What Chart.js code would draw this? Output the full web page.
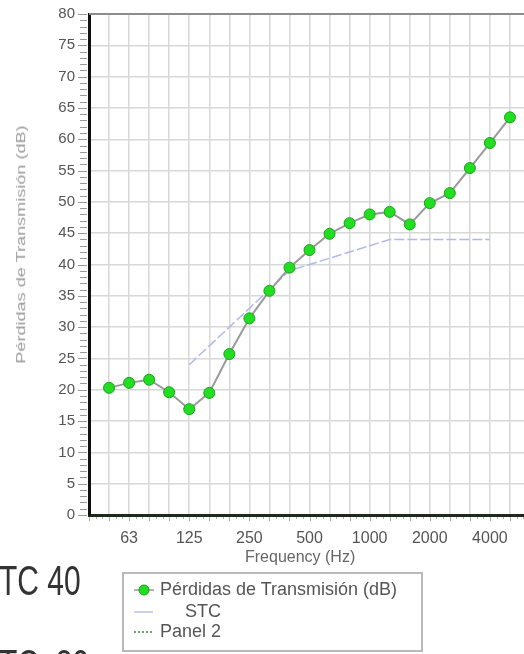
<!DOCTYPE html>
<html>
<head>
<meta charset="utf-8">
<script src="https://cdn.jsdelivr.net/npm/chart.js@4.4.1/dist/chart.umd.min.js"></script>
<style>
  html, body { margin:0; padding:0; background:#fff; overflow:hidden; width:524px; height:654px; }
  #wrap { position:relative; width:524px; height:654px; overflow:hidden; }
  #cv { position:absolute; left:0; top:-9px; }
  .txt { position:absolute; font-family:"Liberation Sans", Arial, sans-serif; white-space:pre; }
  #legend { position:absolute; left:122px; top:572px; width:297px; height:76px; border:2px solid #b9b9b9; background:#fff; }
  .lrow { position:absolute; left:0; height:20px; }
  .lrow svg { position:absolute; left:9px; top:0; }
  .lrow span { position:absolute; top:-1px; font-family:"Liberation Sans", Arial, sans-serif; font-size:18px; color:#555; white-space:pre; }
</style>
</head>
<body>
<div id="wrap">
  <canvas id="cv"></canvas>
  <div class="txt" id="ytitle" style="font-size:13px;color:#9a9a9a;">Pérdidas de Transmisión (dB)</div>
  <div class="txt" id="xtitle" style="font-size:16px;color:#666;">Frequency (Hz)</div>
  <div class="txt" id="big1" style="font-size:30px;color:#333;left:-21px;top:557px;transform:scaleY(1.4);transform-origin:0 0;">STC 40</div>
  <div class="txt" id="big2" style="font-size:30px;color:#333;left:-21px;top:641px;transform:scaleY(1.4);transform-origin:0 0;">STC  30</div>
  <div id="legend">
    <div class="lrow" style="top:6px;">
      <svg width="22" height="20"><line x1="1" y1="10" x2="21" y2="10" stroke="#999" stroke-width="1.5"/><circle cx="11" cy="10" r="5" fill="#22dd22" stroke="#17a017" stroke-width="1"/></svg>
      <span id="l1" style="left:36px;">Pérdidas de Transmisión (dB)</span>
    </div>
    <div class="lrow" style="top:28px;">
      <svg width="22" height="20"><line x1="1" y1="10" x2="20" y2="10" stroke="#b8c0ea" stroke-width="1.5"/></svg>
      <span style="left:61px;">STC</span>
    </div>
    <div class="lrow" style="top:48px;">
      <svg width="22" height="20"><line x1="1" y1="10" x2="20" y2="10" stroke="#3a8a3a" stroke-width="1.5" stroke-dasharray="2,2"/></svg>
      <span style="left:36px;">Panel 2</span>
    </div>
  </div>
</div>
<script>
// ---- data ----
const freqLabels = ['40','50','63','80','100','125','160','200','250','315','400','500','630','800','1000','1250','1600','2000','2500','3150','4000','5000','6300'];
const tlValues   = [null,20.3,21.1,21.6,19.6,16.9,19.5,25.7,31.4,35.8,39.5,42.3,44.9,46.6,48.0,48.4,46.4,49.8,51.4,55.4,59.4,63.5,null];
const stcValues  = [null,null,null,null,null,24,27,30,33,36,39,40,41,42,43,44,44,44,44,44,44,null,null];
const shownTicks = ['63','125','250','500','1000','2000','4000'];
const yMin = 0, yMax = 80, yStep = 5;

const CW = 544, CH = 569;
const cv = document.getElementById('cv');
cv.style.width = CW + 'px'; cv.style.height = CH + 'px';
cv.width = CW; cv.height = CH;

const extras = {
  id: 'extras',
  afterDraw(chart) {
    const ctx = chart.ctx, a = chart.chartArea;
    const ys = chart.scales.y, xs = chart.scales.x;
    ctx.save();
    // top border
    ctx.strokeStyle = '#8c8c8c'; ctx.lineWidth = 2;
    ctx.beginPath(); ctx.moveTo(a.left, a.top); ctx.lineTo(a.right, a.top); ctx.stroke();
    // y minor ticks
    ctx.strokeStyle = '#9a9a9a'; ctx.lineWidth = 1;
    for (let v = yMin; v <= yMax; v += 1) {
      const y = Math.round(ys.getPixelForValue(v)) + 0.5;
      const len = (v % yStep === 0) ? 9 : 7;
      ctx.beginPath(); ctx.moveTo(a.left - 2 - len, y); ctx.lineTo(a.left - 2, y); ctx.stroke();
    }
    // x minor ticks
    ctx.strokeStyle = '#b7a9a9';
    for (let i = 0; i < freqLabels.length - 1; i++) {
      for (let k = 0; k < 3; k++) {
        const x = Math.round(xs.getPixelForValue(i + k / 3)) + 0.5;
        ctx.beginPath(); ctx.moveTo(x, a.bottom + 2); ctx.lineTo(x, a.bottom + (k === 0 ? 6 : 4)); ctx.stroke();
      }
    }
    ctx.restore();
  }
};

const chart = new Chart(cv, {
  type: 'line',
  data: {
    labels: freqLabels,
    datasets: [
      {
        label: 'Pérdidas de Transmisión (dB)',
        data: tlValues,
        borderColor: '#9a9a9a', borderWidth: 2,
        pointRadius: 5.5, pointBackgroundColor: '#22dd22', pointBorderColor: '#16a516', pointBorderWidth: 1,
        tension: 0, spanGaps: false
      },
      {
        label: 'STC',
        data: stcValues,
        borderColor: '#b3b9e6', borderWidth: 1.5, borderDash: [10, 3],
        pointRadius: 0, tension: 0
      },
      {
        label: 'Panel 2',
        data: freqLabels.map(() => null),
        borderColor: '#3a8a3a', borderDash: [2, 2], pointRadius: 0
      }
    ]
  },
  options: {
    responsive: false, animation: false, devicePixelRatio: 1,
    layout: { padding: { top: 5, right: 0, left: 0, bottom: 0 } },
    plugins: { legend: { display: false }, tooltip: { enabled: false } },
    scales: {
      x: {
        type: 'category', offset: false,
        grid: { color: '#d8d8d8', lineWidth: 1.5, drawTicks: false },
        border: { color: '#1c2a1c', width: 3 },
        ticks: {
          autoSkip: false, maxRotation: 0, padding: 14,
          color: '#555', font: { family: 'Liberation Sans, Arial', size: 16 },
          callback: function(v, i) { const l = freqLabels[i]; return shownTicks.includes(l) ? l : ''; }
        },
        afterFit(s) { s.height = CH - 524; }
      },
      y: {
        min: yMin, max: yMax,
        grid: { color: '#d8d8d8', lineWidth: 1.5, drawTicks: false },
        border: { color: '#111', width: 3 },
        ticks: { stepSize: yStep, padding: 14, color: '#555', font: { family: 'Liberation Sans, Arial', size: 15 } },
        afterFit(s) { s.width = 89; }
      }
    }
  },
  plugins: [extras]
});

// ---- axis titles placed around chart area ----
const yt = document.getElementById('ytitle');
const ytw = yt.offsetWidth, yth = yt.offsetHeight;
const ytLen = 238, ytScale = ytLen / ytw;
yt.style.left = (20 - ytw / 2) + 'px';
yt.style.top = (244 - yth / 2) + 'px';
yt.style.transform = 'rotate(-90deg) scale(' + ytScale + ',1)';
const xt = document.getElementById('xtitle');
xt.style.left = (300 - xt.offsetWidth / 2) + 'px';
xt.style.top = (557 - xt.offsetHeight / 2) + 'px';
</script>
</body>
</html>
